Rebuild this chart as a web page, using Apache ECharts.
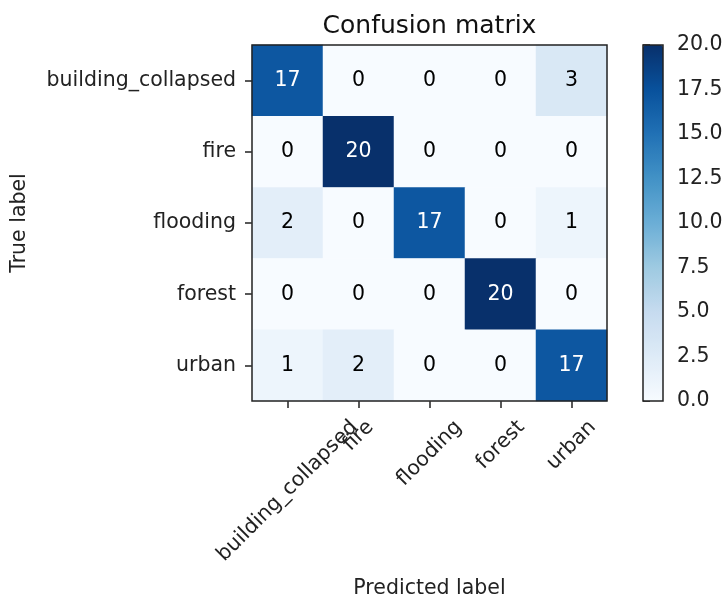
<!DOCTYPE html>
<html>
<head>
<meta charset="utf-8">
<script src="https://cdn.jsdelivr.net/npm/echarts@6/dist/echarts.min.js"></script>
<style>
html,body{margin:0;padding:0;background:#fff;}
#chart{width:722px;height:596px;}
</style>
</head>
<body>
<div id="chart"></div>
<script>
// ---- data ----
const classes = ['building_collapsed', 'fire', 'flooding', 'forest', 'urban'];
const matrixRows = [
  [17, 0, 0, 0, 3],
  [0, 20, 0, 0, 0],
  [2, 0, 17, 0, 1],
  [0, 0, 0, 20, 0],
  [1, 2, 0, 0, 17]
];
const colorbarMin = 0;
const colorbarMax = 20;
const colorbarStep = 2.5;
const bluesStops = ['#f7fbff', '#deebf7', '#c6dbef', '#9ecae1', '#6baed6', '#4292c6', '#2171b5', '#08519c', '#08306b'];

// ---- build ----
const FONT = 'DejaVu Sans';
const FS = 20.5;
const LH = 20;
const ink = '#222';
const thresh = colorbarMax / 2;

const heatData = [];
matrixRows.forEach((row, i) => {
  row.forEach((v, j) => {
    heatData.push({ value: [j, i, v], label: { color: v > thresh ? '#ffffff' : '#000000' } });
  });
});

// measure label widths to emulate matplotlib's centred 45-degree tick labels
const cv = document.createElement('canvas').getContext('2d');
cv.font = FS + 'px "' + FONT + '"';
const xCats = classes.map(c => {
  const w = cv.measureText(c).width;
  return {
    value: c,
    textStyle: {
      align: 'center', verticalAlign: 'top', lineHeight: LH,
      fontFamily: FONT, fontSize: FS, color: ink,
      padding: [w / 4, w / 2 + LH, 0, 0]
    }
  };
});

const chart = echarts.init(document.getElementById('chart'), null, { renderer: 'canvas' });
chart.setOption({
  animation: false,
  backgroundColor: '#ffffff',
  textStyle: { fontFamily: FONT },
  title: {
    text: 'Confusion matrix',
    left: 429.5,
    top: 14,
    padding: 0,
    textAlign: 'center',
    textStyle: { fontFamily: FONT, fontSize: 25, fontWeight: 'normal', color: '#111' }
  },
  grid: [
    { left: 252, top: 45, width: 355, height: 356, show: true, z: 10, outerBoundsMode: 'none', containLabel: false,
      backgroundColor: 'transparent', borderColor: ink, borderWidth: 1.5 },
    { left: 643, top: 45, width: 20, height: 356, show: true, z: 10, outerBoundsMode: 'none', containLabel: false,
      backgroundColor: 'transparent', borderColor: ink, borderWidth: 1.5 }
  ],
  xAxis: [
    {
      type: 'category', gridIndex: 0, data: xCats, position: 'bottom',
      name: 'Predicted label', nameLocation: 'middle', nameGap: 177, nameMoveOverlap: false,
      nameTextStyle: { fontFamily: FONT, fontSize: FS, color: ink },
      axisLine: { show: false },
      axisTick: { show: true, alignWithLabel: true, length: 7, lineStyle: { color: ink, width: 1.5 } },
      axisLabel: { interval: 0, rotate: 45, margin: 9, hideOverlap: false,
        fontFamily: FONT, fontSize: FS, color: ink },
      splitLine: { show: false }
    },
    { type: 'value', gridIndex: 1, show: false, min: 0, max: 1 }
  ],
  yAxis: [
    {
      type: 'category', gridIndex: 0, data: classes, inverse: true,
      name: 'True label', nameLocation: 'middle', nameGap: 222, nameRotate: 90, nameMoveOverlap: false,
      nameTextStyle: { fontFamily: FONT, fontSize: FS, color: ink },
      axisLine: { show: false },
      axisTick: { show: true, alignWithLabel: true, length: 7, lineStyle: { color: ink, width: 1.5 } },
      axisLabel: { interval: 0, margin: 16, fontFamily: FONT, fontSize: FS, color: ink },
      splitLine: { show: false }
    },
    {
      type: 'value', gridIndex: 1, position: 'right',
      min: colorbarMin, max: colorbarMax, interval: colorbarStep,
      axisLine: { show: false },
      axisTick: { show: true, length: 7, lineStyle: { color: ink, width: 1.5 } },
      axisLabel: { margin: 14, fontFamily: FONT, fontSize: FS, color: ink,
        formatter: v => v.toFixed(1) },
      splitLine: { show: false }
    }
  ],
  visualMap: {
    type: 'continuous',
    seriesIndex: 0,
    min: colorbarMin, max: colorbarMax,
    calculable: false,
    showLabel: false,
    text: null,
    left: 643, top: 45,
    padding: 0,
    itemWidth: 20, itemHeight: 356,
    inRange: { color: bluesStops },
    orient: 'vertical'
  },
  series: [
    {
      type: 'heatmap',
      xAxisIndex: 0, yAxisIndex: 0,
      data: heatData,
      label: { show: true, fontFamily: FONT, fontSize: FS },
      itemStyle: { borderWidth: 0 },
      emphasis: { disabled: true }
    }
  ]
});
</script>
</body>
</html>
